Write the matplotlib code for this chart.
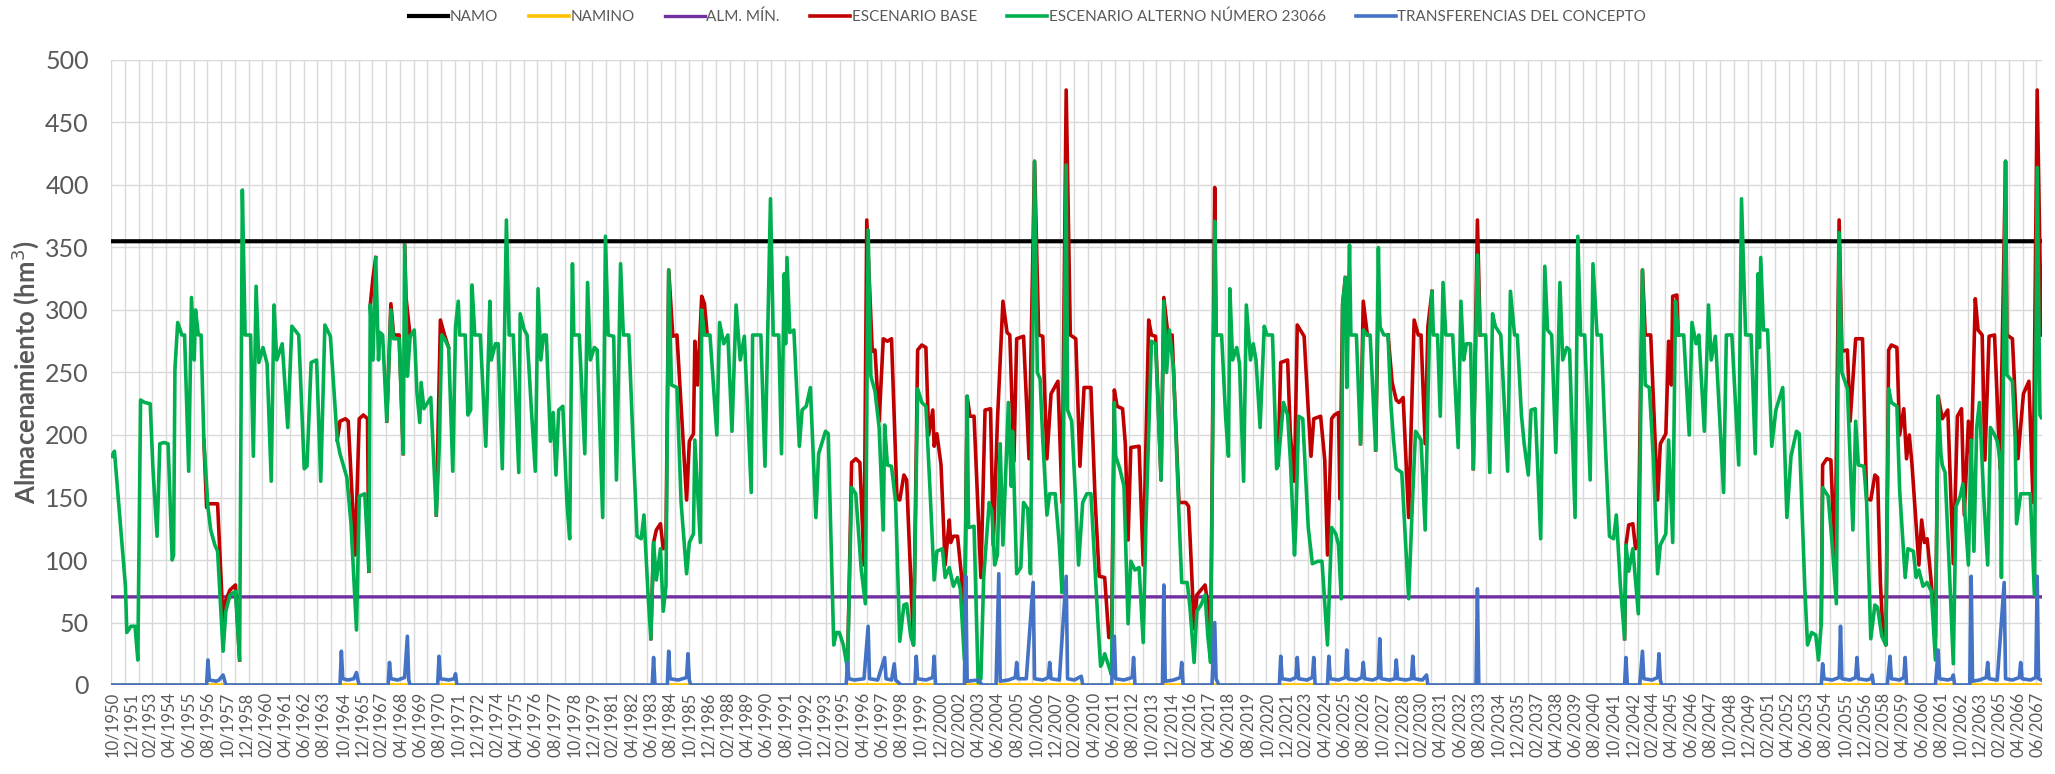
import numpy as np
import pandas as pd
import matplotlib
matplotlib.use('Agg')
import matplotlib.pyplot as plt

plt.rcParams['font.family'] = ['Lato', 'DejaVu Sans']

# monthly axis: 10/1950 .. 09/2067, one category per month
N_MONTHS = 1404
LABEL_STEP = 14
GRID_STEP = 10

NAMO = 355.0
NAMINO = 0.0
ALM_MIN = 70.5

# ESCENARIO ALTERNO NÚMERO 23066 (month index, hm3)
alterno = [
    (0, 183), (2, 187), (10, 79), (11, 42), (14, 47), (17, 47), (19, 20), (21, 228), (24, 226), (28, 225),
    (30, 173), (33, 119), (35, 193), (38, 194), (41, 193), (44, 100), (45, 104), (46, 253), (48, 290), (51, 280),
    (53, 280), (56, 171), (58, 310), (60, 260), (61, 300), (63, 280), (65, 280), (67, 196), (70, 142), (72, 124),
    (75, 112), (77, 107), (81, 27), (83, 59), (86, 72), (90, 75), (93, 20), (95, 396), (97, 280), (101, 280),
    (103, 183), (105, 319), (107, 258), (110, 270), (113, 257), (116, 163), (118, 304), (120, 260), (124, 273),
    (128, 206), (131, 287), (136, 280), (140, 173), (142, 175), (145, 258), (149, 260), (152, 163), (155, 288),
    (159, 279), (164, 196), (166, 185), (171, 166), (174, 129), (178, 44), (180, 151), (184, 153), (187, 91),
    (188, 304), (190, 260), (192, 342), (194, 260), (195, 282), (197, 280), (200, 211), (203, 300), (205, 277),
    (209, 277), (212, 185), (213, 352), (215, 247), (217, 279), (220, 284), (222, 233), (224, 210), (225, 242),
    (227, 221), (232, 230), (236, 136), (238, 186), (240, 280), (242, 277), (245, 270), (248, 171), (250, 287),
    (252, 307), (253, 280), (257, 280), (259, 216), (261, 220), (262, 320), (264, 280), (268, 280), (272, 191),
    (275, 307), (276, 260), (279, 273), (281, 273), (284, 173), (287, 372), (289, 280), (292, 280), (296, 170),
    (297, 297), (300, 284), (302, 280), (305, 223), (308, 171), (310, 317), (312, 260), (314, 280), (316, 280),
    (319, 195), (321, 218), (323, 168), (325, 220), (328, 223), (331, 146), (333, 117), (335, 337), (336, 280),
    (340, 280), (344, 185), (346, 322), (348, 260), (351, 270), (353, 268), (357, 134), (359, 359), (361, 280),
    (365, 279), (367, 164), (370, 337), (372, 280), (376, 280), (379, 196), (382, 119), (385, 117), (387, 136),
    (390, 72), (392, 37), (394, 114), (396, 84), (399, 109), (401, 59), (403, 79), (405, 332), (407, 240),
    (411, 238), (414, 146), (418, 89), (420, 114), (423, 121), (424, 196), (428, 114), (429, 300), (431, 280),
    (435, 280), (440, 200), (442, 290), (445, 273), (448, 280), (451, 203), (454, 304), (457, 260), (460, 279),
    (465, 154), (466, 280), (472, 280), (475, 175), (479, 389), (481, 280), (485, 280), (487, 185), (489, 329),
    (490, 273), (491, 342), (493, 282), (496, 284), (500, 191), (502, 220), (505, 223), (508, 238), (512, 134),
    (514, 185), (519, 203), (521, 201), (525, 32), (527, 42), (529, 42), (532, 32), (535, 13), (538, 158),
    (541, 153), (545, 92), (548, 65), (550, 364), (552, 247), (555, 235), (558, 206), (561, 124), (562, 208),
    (564, 176), (567, 175), (570, 146), (573, 35), (576, 64), (578, 65), (581, 39), (583, 32), (586, 237),
    (589, 226), (592, 223), (595, 156), (598, 84), (600, 107), (604, 109), (606, 86), (609, 94), (612, 79),
    (615, 86), (617, 77), (620, 20), (622, 231), (623, 126), (627, 127), (630, 2), (632, 5), (634, 86),
    (638, 146), (640, 139), (642, 96), (644, 104), (646, 193), (648, 112), (652, 226), (654, 159), (655, 203),
    (658, 89), (661, 94), (663, 146), (666, 141), (668, 89), (671, 419), (673, 250), (675, 245), (677, 196),
    (680, 136), (682, 153), (686, 153), (689, 112), (691, 74), (694, 416), (695, 220), (698, 211), (701, 146),
    (703, 96), (706, 146), (709, 153), (712, 153), (717, 52), (719, 15), (720, 17), (722, 25), (725, 15),
    (727, 8), (729, 226), (730, 183), (733, 173), (736, 159), (739, 49), (741, 99), (744, 92), (747, 94),
    (750, 34), (752, 129), (756, 275), (759, 273), (763, 164), (765, 307), (767, 250), (769, 284), (772, 253),
    (776, 136), (778, 82), (782, 82), (784, 62), (787, 18), (789, 59), (792, 64), (795, 72), (797, 39),
    (799, 18), (802, 371), (803, 280), (807, 280), (810, 213), (812, 183), (813, 317), (815, 260), (818, 270),
    (820, 257), (823, 163), (825, 304), (828, 260), (830, 273), (832, 260), (835, 206), (838, 287), (840, 280),
    (844, 280), (847, 173), (848, 176), (852, 226), (855, 216), (857, 180), (860, 104), (861, 129), (863, 215),
    (866, 213), (870, 126), (873, 97), (877, 99), (880, 99), (884, 32), (887, 126), (890, 121), (892, 112),
    (894, 69), (895, 304), (897, 326), (898, 238), (900, 352), (901, 280), (905, 280), (908, 193), (910, 284),
    (913, 280), (915, 280), (919, 188), (921, 350), (922, 287), (925, 280), (928, 280), (930, 226), (932, 196),
    (934, 173), (938, 170), (943, 69), (946, 153), (948, 203), (952, 196), (955, 124), (958, 277), (960, 315),
    (961, 280), (964, 280), (966, 215), (968, 322), (970, 280), (975, 280), (979, 190), (981, 307), (983, 260),
    (985, 273), (988, 273), (990, 173), (993, 344), (995, 280), (999, 280), (1002, 170), (1004, 297), (1006, 287),
    (1010, 280), (1015, 171), (1017, 315), (1020, 280), (1022, 280), (1025, 216), (1027, 193), (1030, 168),
    (1032, 220), (1035, 221), (1039, 117), (1042, 335), (1044, 284), (1047, 280), (1050, 186), (1053, 322),
    (1055, 260), (1058, 270), (1060, 268), (1064, 134), (1066, 359), (1068, 280), (1071, 280), (1075, 164),
    (1077, 337), (1080, 280), (1083, 280), (1086, 193), (1089, 119), (1092, 117), (1094, 136), (1097, 79),
    (1100, 37), (1101, 112), (1103, 91), (1106, 109), (1110, 57), (1113, 332), (1115, 240), (1118, 238),
    (1121, 180), (1124, 89), (1126, 112), (1130, 121), (1132, 196), (1135, 114), (1137, 307), (1139, 280),
    (1143, 280), (1147, 200), (1149, 290), (1152, 273), (1154, 280), (1158, 203), (1161, 304), (1163, 260),
    (1166, 279), (1172, 154), (1174, 280), (1178, 280), (1183, 176), (1185, 389), (1188, 280), (1192, 280),
    (1195, 185), (1197, 329), (1198, 270), (1199, 342), (1201, 284), (1204, 284), (1207, 191), (1210, 220),
    (1215, 238), (1218, 134), (1221, 183), (1225, 203), (1227, 201), (1231, 79), (1233, 32), (1236, 42),
    (1239, 40), (1241, 20), (1243, 49), (1244, 158), (1248, 151), (1251, 112), (1254, 65), (1256, 362),
    (1258, 250), (1262, 237), (1264, 180), (1266, 124), (1268, 211), (1270, 176), (1274, 175), (1276, 146),
    (1279, 37), (1282, 64), (1284, 62), (1287, 39), (1290, 32), (1292, 237), (1294, 226), (1298, 223),
    (1300, 156), (1304, 86), (1306, 109), (1310, 107), (1312, 86), (1314, 92), (1317, 79), (1320, 82),
    (1323, 75), (1326, 20), (1328, 231), (1330, 185), (1331, 176), (1333, 170), (1336, 96), (1339, 17),
    (1341, 143), (1344, 151), (1346, 161), (1350, 96), (1352, 196), (1354, 107), (1356, 206), (1358, 226),
    (1361, 153), (1364, 96), (1366, 206), (1369, 200), (1371, 195), (1373, 180), (1374, 86), (1377, 419),
    (1378, 248), (1382, 243), (1384, 196), (1385, 129), (1388, 153), (1391, 153), (1395, 153), (1398, 72),
    (1400, 414), (1402, 216), (1403, 214),
]

# ESCENARIO BASE, only the stretches where it departs from the alternative (None = break)
base = [
    (67, 196), (69, 142), (70, 145), (77, 145), (81, 50), (83, 68), (86, 76), (90, 80), (93, 20), None,
    (164, 196), (166, 211), (170, 213), (172, 211), (177, 104), (180, 213), (183, 216), (186, 213), (187, 91), None,
    (188, 304), (190, 326), (192, 342), None,
    (200, 211), (203, 305), (205, 280), (209, 280), (212, 185), None,
    (213, 352), (214, 310), (217, 279), None,
    (236, 136), (239, 292), (242, 280), (245, 270), None,
    (392, 37), (394, 114), (396, 124), (399, 129), (401, 109), (403, 115), (405, 332), (408, 279), (411, 280),
    (418, 148), (420, 195), (423, 201), (424, 275), (426, 240), (429, 311), (431, 305), (433, 280), None,
    (535, 13), (538, 178), (541, 181), (544, 178), (547, 96), (549, 372), (553, 267), (555, 268), (558, 211),
    (561, 277), (564, 275), (567, 277), (571, 149), (573, 148), (576, 168), (578, 164), (581, 86), (583, 32),
    (586, 268), (589, 272), (592, 270), (594, 200), (597, 220), (598, 191), (600, 201), (603, 176), (606, 96),
    (609, 132), (610, 114), (612, 119), (615, 119), (618, 86), (620, 38), (622, 231), (624, 215), (627, 215),
    (632, 86), (635, 220), (639, 221), (641, 112), (644, 211), (648, 307), (651, 282), (653, 280), (656, 179),
    (658, 277), (663, 279), (667, 181), (671, 419), (674, 280), (677, 279), (680, 181), (683, 233), (688, 243),
    (691, 146), (694, 476), (697, 280), (701, 277), (704, 175), (707, 238), (712, 238), (715, 149), (718, 87),
    (722, 86), (725, 38), (727, 38), (729, 236), (731, 223), (735, 221), (737, 193), (739, 116), (741, 190),
    (747, 191), (750, 96), (754, 292), (756, 280), (759, 279), (763, 164), (765, 310), (768, 280), (771, 280),
    (776, 146), (781, 146), (783, 143), (785, 96), (787, 45), (789, 72), (792, 76), (795, 80), (797, 64),
    (799, 30), (802, 398), (803, 280), None,
    (848, 176), (850, 258), (855, 260), (857, 200), (860, 163), (862, 288), (867, 279), (870, 220), (872, 183),
    (874, 213), (879, 215), (882, 180), (884, 104), (887, 213), (889, 216), (892, 218), (893, 149), (895, 305),
    (897, 326), None,
    (908, 193), (910, 307), (913, 280), None,
    (919, 188), (921, 312), (922, 287), None,
    (928, 280), (931, 242), (934, 228), (936, 226), (939, 230), (943, 134), (947, 292), (950, 280), (952, 280),
    (955, 193), (957, 287), (960, 315), None,
    (990, 173), (993, 372), (995, 280), None,
    (1100, 37), (1101, 112), (1103, 128), (1106, 129), (1108, 109), (1110, 115), (1113, 332), (1115, 280),
    (1119, 280), (1124, 148), (1126, 193), (1130, 201), (1132, 275), (1134, 240), (1135, 311), (1138, 312),
    (1139, 280), None,
    (1243, 49), (1244, 176), (1247, 181), (1250, 180), (1253, 96), (1256, 372), (1258, 267), (1262, 268),
    (1264, 211), (1268, 277), (1273, 277), (1276, 149), (1279, 148), (1282, 168), (1284, 166), (1286, 82),
    (1288, 39), (1290, 32), (1292, 268), (1294, 272), (1298, 270), (1300, 200), (1303, 221), (1305, 181),
    (1307, 200), (1309, 176), (1314, 96), (1316, 132), (1318, 114), (1320, 117), (1323, 82), (1326, 38),
    (1328, 231), (1331, 213), (1335, 220), (1339, 97), (1342, 215), (1345, 221), (1347, 136), (1350, 211),
    (1352, 180), (1355, 309), (1357, 284), (1360, 280), (1362, 180), (1365, 279), (1369, 280), (1373, 173),
    (1377, 419), (1378, 280), (1382, 277), (1386, 181), (1390, 233), (1394, 243), (1397, 146), (1400, 476),
    (1403, 280),
]

# TRANSFERENCIAS DEL CONCEPTO
transfer = [
    (0, 0), (69, 0), (70, 20), (71, 4), (76, 3), (78, 4), (81, 8), (82, 4), (83, 0),
    (166, 0), (167, 27), (168, 5), (172, 4), (176, 5), (178, 10), (179, 4), (180, 0),
    (201, 0), (202, 18), (203, 5), (208, 4), (213, 6), (215, 39), (216, 4), (217, 0),
    (237, 0), (238, 23), (239, 5), (245, 4), (249, 5), (250, 9), (251, 0),
    (393, 0), (394, 22), (395, 0),
    (404, 0), (405, 27), (406, 5), (412, 4), (418, 6), (419, 25), (420, 4), (421, 0),
    (534, 0), (535, 18), (536, 5), (540, 4), (547, 5), (550, 47), (551, 5), (557, 4), (562, 22), (563, 5),
    (567, 4), (569, 17), (570, 4), (574, 0),
    (584, 0), (585, 23), (586, 5), (592, 4), (597, 6), (598, 23), (599, 0),
    (620, 0), (621, 87), (622, 3), (630, 4), (633, 0),
    (643, 0), (645, 89), (646, 3), (652, 4), (657, 6), (658, 18), (659, 5), (665, 5), (670, 82), (671, 5),
    (677, 4), (681, 6), (682, 18), (683, 5), (689, 4), (694, 87), (695, 5), (700, 4), (705, 7), (706, 0),
    (727, 0), (729, 39), (730, 5), (736, 4), (742, 6), (743, 22), (744, 0),
    (764, 0), (765, 80), (766, 3), (772, 4), (777, 6), (778, 18), (779, 0),
    (800, 0), (802, 50), (803, 5), (805, 0),
    (849, 0), (850, 23), (851, 5), (857, 4), (861, 6), (862, 22), (863, 5), (869, 4), (873, 6), (874, 22), (875, 0),
    (884, 0), (885, 23), (886, 5), (892, 4), (897, 6), (898, 28), (899, 5), (905, 4), (909, 6), (910, 18),
    (911, 5), (917, 4), (921, 6), (922, 37), (923, 5), (929, 4), (933, 5), (934, 20), (935, 5), (941, 4),
    (945, 5), (946, 23), (947, 5), (953, 4), (956, 8), (957, 0),
    (992, 0), (993, 77), (994, 0),
    (1100, 0), (1101, 22), (1102, 0),
    (1111, 0), (1113, 27), (1114, 5), (1120, 4), (1124, 6), (1125, 25), (1126, 4), (1127, 0),
    (1243, 0), (1244, 17), (1245, 5), (1251, 4), (1256, 6), (1257, 47), (1258, 5), (1264, 4), (1268, 6),
    (1269, 22), (1270, 5), (1276, 4), (1279, 5), (1280, 8), (1281, 0),
    (1291, 0), (1293, 23), (1294, 5), (1300, 4), (1303, 6), (1304, 22), (1305, 0),
    (1326, 0), (1328, 28), (1329, 5), (1335, 4), (1338, 5), (1339, 8), (1340, 0),
    (1351, 0), (1352, 87), (1353, 3), (1358, 4), (1363, 6), (1364, 18), (1365, 5), (1371, 4), (1376, 82),
    (1377, 5), (1382, 4), (1387, 6), (1388, 18), (1389, 5), (1395, 4), (1399, 6), (1400, 87), (1401, 5),
    (1403, 4),
]


def xy(pts):
    x = [np.nan if p is None else p[0] for p in pts]
    y = [np.nan if p is None else p[1] for p in pts]
    return np.array(x, float), np.array(y, float)


dates = pd.date_range('1950-10-01', periods=N_MONTHS, freq='MS')
months = np.arange(N_MONTHS)

TXT = '#595959'
fig = plt.figure(figsize=(20.55, 7.74), dpi=100)
ax = fig.add_axes([111 / 2055, 89 / 774, 1931 / 2055, 625 / 774])

ax.plot(months, np.full(N_MONTHS, NAMO), color='black', lw=3.0, label='NAMO', zorder=3)
ax.plot(months, np.full(N_MONTHS, NAMINO), color='#FFC000', lw=2.6, label='NAMINO', zorder=3)
ax.plot(months, np.full(N_MONTHS, ALM_MIN), color='#7030A0', lw=2.4, label='ALM. MÍN.', zorder=3)
bx, by = xy(base)
ax.plot(bx, by, color='#C00000', lw=2.6, label='ESCENARIO BASE', zorder=4, solid_joinstyle='round')
gx, gy = xy(alterno)
ax.plot(gx, gy, color='#00B050', lw=2.6, label='ESCENARIO ALTERNO NÚMERO 23066', zorder=5,
        solid_joinstyle='round')
tx, ty = xy(transfer)
ax.plot(tx, ty, color='#4472C4', lw=2.6, label='TRANSFERENCIAS DEL CONCEPTO', zorder=6)

ax.set_xlim(-0.5, N_MONTHS - 0.5)
ax.set_ylim(0, 500)
ax.set_yticks(np.arange(0, 501, 50))
ax.set_xticks(np.arange(-0.5, N_MONTHS, GRID_STEP), minor=True)
lab_idx = np.arange(0, N_MONTHS, LABEL_STEP)
ax.set_xticks(lab_idx)
ax.set_xticklabels([dates[i].strftime('%m/%Y') for i in lab_idx], rotation=90, fontsize=12, color=TXT)
ax.tick_params(axis='x', which='both', length=0, pad=5)
ax.tick_params(axis='y', length=0, labelsize=18, labelcolor=TXT, pad=16)
ax.grid(axis='y', color='#D9D9D9', lw=1.0)
ax.grid(axis='x', which='minor', color='#D9D9D9', lw=1.0)
ax.grid(axis='x', which='major', visible=False)
ax.set_axisbelow(True)
for s in ax.spines.values():
    s.set_visible(False)
ax.set_ylabel('Almacenamiento (hm$^3$)', fontsize=18.5, fontweight='bold', color=TXT, labelpad=3)

fig.legend(loc='center', bbox_to_anchor=(0.5, 1 - 17 / 774), ncol=6, frameon=False,
           fontsize=11, labelcolor=TXT, handlelength=2.6, handletextpad=0.1, columnspacing=2.0)

fig.savefig('out.png', dpi=100)
